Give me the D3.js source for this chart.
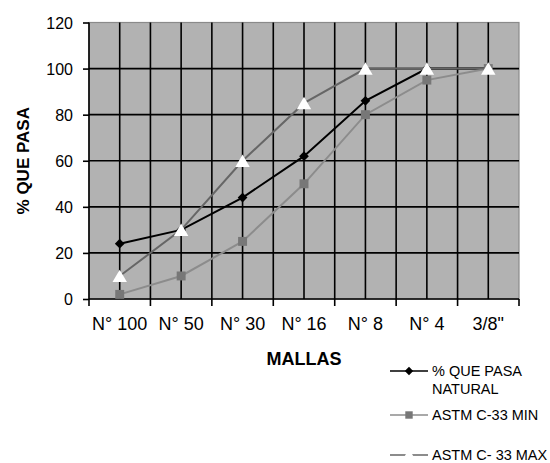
<!DOCTYPE html>
<html>
<head>
<meta charset="utf-8">
<style>
    body { margin: 0; background: #fff; }
    svg { display: block; font-family: "Liberation Sans", Arial, sans-serif; }
    .grid line { stroke: #000; stroke-width: 1.6px; }
    .axis text { fill: #000; }
    .axis path, .axis line { stroke: #000; stroke-width: 1.6px; }
    .legend text { font-size: 14.5px; fill: #000; }
</style>
</head>
<body>
<script src="https://cdn.jsdelivr.net/npm/d3@7"></script>
<script>
    // data
    let mallas = ["N° 100", "N° 50", "N° 30", "N° 16", "N° 8", "N° 4", "3/8\""];
    let natural = [24, 30, 44, 62, 86, 100, 100];
    let astmMin = [2, 10, 25, 50, 80, 95, 100];
    let astmMax = [10, 30, 60, 85, 100, 100, 100];
    let yTicks = [0, 20, 40, 60, 80, 100, 120];
    let legendLabels = [["% QUE PASA", "NATURAL"], ["ASTM C-33 MIN"], ["ASTM C- 33 MAX"]];

    let w = 550, h = 463;
    let m = { left: 89, right: 519, top: 22.5, bottom: 299 };

    let svg = d3.select("body").append("svg")
        .attr("width", w)
        .attr("height", h);

    let x = d3.scaleBand().domain(mallas).range([m.left, m.right]);
    let y = d3.scaleLinear().domain([0, 120]).range([m.bottom, m.top]);

    // plot background
    svg.append("rect")
        .attr("x", m.left).attr("y", m.top)
        .attr("width", m.right - m.left).attr("height", m.bottom - m.top)
        .attr("fill", "#b2b2b2")
        .attr("stroke", "#8a8a8a").attr("stroke-width", 1.2);

    // grid: horizontal on each y tick, vertical on band edges and band centres
    let grid = svg.append("g").attr("class", "grid");
    grid.selectAll("line.h")
        .data(yTicks.filter(function(d) { return d > 0 && d < 120; }))
        .enter().append("line")
            .attr("class", "h")
            .attr("x1", m.left).attr("x2", m.right)
            .attr("y1", function(d) { return y(d); })
            .attr("y2", function(d) { return y(d); });
    let vx = [];
    mallas.forEach(function(c, i) {
        if (i > 0) vx.push(x(c));
        vx.push(x(c) + x.bandwidth() / 2);
    });
    grid.selectAll("line.v")
        .data(vx)
        .enter().append("line")
            .attr("class", "v")
            .attr("x1", function(d) { return d; }).attr("x2", function(d) { return d; })
            .attr("y1", m.top).attr("y2", m.bottom);

    // axes
    let yAxis = svg.append("g")
        .attr("class", "axis")
        .attr("font-size", 16)
        .attr("transform", "translate(" + m.left + ",0)")
        .call(d3.axisLeft(y).tickValues(yTicks).tickSize(6).tickPadding(10));
    yAxis.select(".domain").remove();
    yAxis.selectAll("text").attr("font-size", 16).attr("dy", "0.36em");
    svg.append("line")
        .attr("x1", m.left).attr("x2", m.left)
        .attr("y1", m.top).attr("y2", m.bottom)
        .attr("stroke", "#000").attr("stroke-width", 1.6);

    let xAxis = svg.append("g")
        .attr("class", "axis")
        .attr("transform", "translate(0," + m.bottom + ")")
        .call(d3.axisBottom(x).tickSize(0).tickPadding(18));
    xAxis.select(".domain").remove();
    xAxis.selectAll("text").attr("font-size", 18);
    svg.append("line")
        .attr("x1", m.left).attr("x2", m.right)
        .attr("y1", m.bottom).attr("y2", m.bottom)
        .attr("stroke", "#000").attr("stroke-width", 1.6);
    // tick marks between categories
    let edges = mallas.map(function(c) { return x(c); }).concat([m.right]);
    svg.append("g").selectAll("line")
        .data(edges)
        .enter().append("line")
            .attr("x1", function(d) { return d; }).attr("x2", function(d) { return d; })
            .attr("y1", m.bottom).attr("y2", m.bottom + 7)
            .attr("stroke", "#000").attr("stroke-width", 1.6);

    // axis titles
    svg.append("text")
        .attr("transform", "translate(29," + (m.top + m.bottom) / 2 + ") rotate(-90)")
        .attr("text-anchor", "middle")
        .attr("font-size", 17).attr("font-weight", "bold")
        .text("% QUE PASA");
    svg.append("text")
        .attr("x", 304).attr("y", 365)
        .attr("text-anchor", "middle")
        .attr("font-size", 18).attr("font-weight", "bold")
        .text("MALLAS");

    // series
    let series = [
        { name: "natural", values: natural, line: "#000", marker: "diamond", fill: "#000" },
        { name: "min", values: astmMin, line: "#8c8c8c", marker: "square", fill: "#777" },
        { name: "max", values: astmMax, line: "#666", marker: "triangle", fill: "#fff" }
    ];
    let sym = {
        diamond: d3.symbol().type(d3.symbolDiamond2).size(60),
        square: d3.symbol().type(d3.symbolSquare).size(80),
        triangle: d3.symbol().type(d3.symbolTriangle).size(90)
    };
    let line = d3.line()
        .x(function(d, i) { return x(mallas[i]) + x.bandwidth() / 2; })
        .y(function(d) { return y(d); });

    series.forEach(function(s) {
        let g = svg.append("g");
        g.append("path")
            .datum(s.values)
            .attr("d", line)
            .attr("fill", "none")
            .attr("stroke", s.line)
            .attr("stroke-width", 2);
        g.selectAll("path.mk")
            .data(s.values)
            .enter().append("path")
                .attr("class", "mk")
                .attr("d", sym[s.marker]())
                .attr("fill", s.fill)
                .attr("transform", function(d, i) {
                    let dy = s.marker == "triangle" ? 2 : 0;
                    return "translate(" + (x(mallas[i]) + x.bandwidth() / 2) + "," + (y(d) + dy) + ")";
                });
    });

    // legend
    let legY = [371, 415, 455];
    let leg = svg.append("g").attr("class", "legend");
    series.forEach(function(s, i) {
        let g = leg.append("g").attr("transform", "translate(0," + legY[i] + ")");
        g.append("line")
            .attr("x1", 390).attr("x2", 428)
            .attr("stroke", s.line).attr("stroke-width", 1.6);
        g.append("path")
            .attr("d", sym[s.marker].size(s.marker == "diamond" ? 45 : s.marker == "triangle" ? 70 : 55)())
            .attr("fill", s.fill)
            .attr("transform", "translate(409," + (s.marker == "triangle" ? 1 : 0) + ")");
        legendLabels[i].forEach(function(t, k) {
            g.append("text")
                .attr("x", 432).attr("y", 5 + k * 18)
                .attr("font-size", i == 2 ? 14 : null)
                .text(t);
        });
    });
</script>
</body>
</html>
